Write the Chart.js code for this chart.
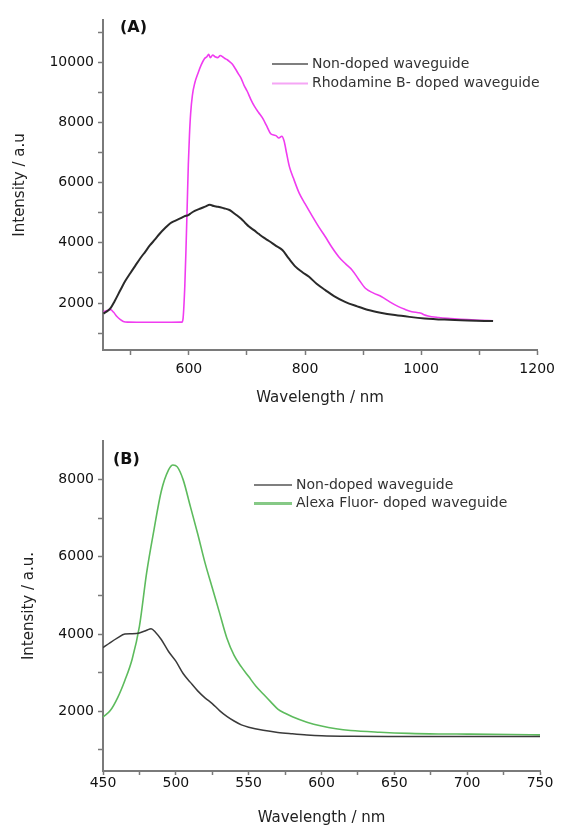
<!DOCTYPE html>
<html>
<head>
<meta charset="utf-8">
<script src="https://cdn.jsdelivr.net/npm/chart.js@4.4.1/dist/chart.umd.min.js"></script>
<style>
  body { margin: 0; background: #fff; }
  canvas { display: block; }
</style>
</head>
<body>
<canvas id="chartA" width="561" height="414"></canvas>
<canvas id="chartB" width="561" height="414"></canvas>
<script>
// Panel (A): non-doped vs Rhodamine B-doped waveguide
const wlA_plain = [453, 460, 465, 472, 482, 490, 499, 508, 516, 525, 533, 542, 550, 559, 568, 576, 585, 592, 599, 604, 610, 620, 628, 636, 643, 650, 660, 670, 680, 690, 697, 704, 712, 720, 729, 738, 750, 761, 772, 784, 795, 807, 820, 835, 850, 869, 890, 909, 930, 955, 980, 1006, 1040, 1080, 1124];
const intA_plain = [1650, 1740, 1830, 2060, 2430, 2720, 2990, 3250, 3480, 3710, 3920, 4120, 4310, 4490, 4650, 4730, 4810, 4880, 4920, 4990, 5060, 5140, 5200, 5260, 5220, 5200, 5150, 5090, 4950, 4800, 4660, 4530, 4420, 4300, 4170, 4060, 3900, 3760, 3480, 3200, 3030, 2870, 2640, 2430, 2230, 2040, 1890, 1770, 1680, 1600, 1540, 1490, 1450, 1420, 1400];

const wlA_rhod = [453, 460, 465, 470, 476, 482, 487, 495, 510, 540, 570, 588, 590, 593, 595, 597, 599, 601, 603, 606, 610, 616, 621, 627, 631, 634, 637, 641, 645, 650, 654, 658, 662, 666, 670, 675, 680, 685, 690, 695, 700, 707, 713, 720, 727, 734, 741, 746, 750, 755, 760, 764, 768, 773, 780, 790, 800, 813, 824, 835, 846, 858, 870, 881, 892, 904, 918, 932, 946, 961, 972, 984, 995, 1000, 1005, 1012, 1030, 1046, 1063, 1080, 1100, 1124];
const intA_rhod = [1710, 1760, 1780, 1700, 1550, 1450, 1390, 1365, 1360, 1360, 1360, 1365, 1500, 2600, 3800, 5200, 6600, 7600, 8300, 8900, 9300, 9650, 9900, 10120, 10180, 10260, 10150, 10240, 10180, 10150, 10220, 10180, 10120, 10080, 10020, 9930, 9780, 9620, 9460, 9230, 9050, 8750, 8530, 8330, 8140, 7880, 7620, 7580, 7560, 7480, 7540, 7380, 7000, 6540, 6150, 5650, 5300, 4870, 4520, 4200, 3860, 3540, 3300, 3100, 2800, 2490, 2330, 2210, 2040, 1880, 1790, 1710, 1680, 1660, 1610, 1570, 1520, 1490, 1470, 1450, 1430, 1410];

// Panel (B): non-doped vs Alexa Fluor-doped waveguide
const wlB_plain = [450, 455, 460, 465, 470, 475, 480, 483, 486, 490, 495, 500, 505, 510, 515, 520, 525, 530, 535, 540, 545, 550, 560, 570, 580, 590, 600, 620, 650, 700, 750];
const intB_plain = [3650, 3780, 3900, 4000, 4010, 4030, 4100, 4140, 4050, 3860, 3550, 3300, 2980, 2750, 2530, 2350, 2200, 2020, 1870, 1750, 1650, 1590, 1510, 1455, 1420, 1390, 1370, 1355, 1350, 1350, 1350];

const wlB_alexa = [450, 455, 460, 465, 470, 475, 480, 485, 490, 495, 498, 501, 505, 510, 515, 520, 525, 530, 535, 540, 545, 550, 555, 560, 565, 570, 575, 580, 590, 600, 610, 620, 640, 660, 680, 700, 730, 750];
const intB_alexa = [1850, 2020, 2350, 2800, 3350, 4200, 5600, 6700, 7700, 8250, 8380, 8330, 8000, 7300, 6600, 5850, 5200, 4550, 3900, 3450, 3150, 2900, 2650, 2450, 2250, 2060, 1950, 1860, 1720, 1620, 1550, 1505, 1460, 1430, 1415, 1410, 1400, 1390];

// tick positions (all get a tick mark) and the ones that get a label
const xTicksA = [500, 600, 700, 800, 900, 1000, 1100, 1200];
const xLabelsA = [600, 800, 1000, 1200];
const yTicksA = [1000, 2000, 3000, 4000, 5000, 6000, 7000, 8000, 9000, 10000, 11000];
const yLabelsA = [2000, 4000, 6000, 8000, 10000];

const xTicksB = [450, 475, 500, 525, 550, 575, 600, 625, 650, 675, 700, 725, 750];
const xLabelsB = [450, 500, 550, 600, 650, 700, 750];
const yTicksB = [1000, 2000, 3000, 4000, 5000, 6000, 7000, 8000];
const yLabelsB = [2000, 4000, 6000, 8000];

const FONT = '"DejaVu Sans", Verdana, sans-serif';
const AXIS = '#7a7a7a';

function pts(xs, ys) {
  return xs.map((x, i) => ({ x, y: ys[i] }));
}

// panel letter + legend drawn inside the plot
const extras = {
  id: 'extras',
  afterDraw(chart, args, o) {
    const ctx = chart.ctx;
    ctx.save();
    ctx.textBaseline = 'middle';
    ctx.fillStyle = '#111';
    ctx.font = 'bold 16px ' + FONT;
    ctx.fillText(o.panel, o.panelX, o.panelY);
    ctx.font = '14px ' + FONT;
    chart.data.datasets.forEach((ds, i) => {
      const y = o.legendY + i * o.legendGap;
      ctx.strokeStyle = ds.legendColor;
      ctx.lineWidth = ds.legendWidth;
      ctx.beginPath();
      ctx.moveTo(o.legendX, y);
      ctx.lineTo(o.legendX + o.lineLen, y);
      ctx.stroke();
      ctx.fillStyle = '#333';
      ctx.fillText(ds.label, o.legendX + o.lineLen + 4, y);
    });
    ctx.restore();
  }
};

function makeChart(id, c) {
  return new Chart(document.getElementById(id), {
    type: 'line',
    data: { datasets: c.datasets },
    plugins: [extras],
    options: {
      responsive: false,
      animation: false,
      layout: { padding: { top: c.top, right: 21, left: 0, bottom: 0 } },
      elements: {
        point: { radius: 0 },
        line: { cubicInterpolationMode: 'monotone' }
      },
      plugins: {
        legend: { display: false },
        tooltip: { enabled: false },
        extras: c.extras
      },
      scales: {
        x: {
          type: 'linear',
          min: c.xMin, max: c.xMax,
          afterFit: s => { s.height = c.xHeight; },
          afterBuildTicks: s => { s.ticks = c.xTicks.map(v => ({ value: v })); },
          border: { display: true, color: AXIS, width: 2 },
          grid: { drawOnChartArea: false, drawTicks: true, tickLength: c.xTickLen, tickColor: AXIS, tickWidth: 1.5 },
          ticks: {
            autoSkip: false, maxRotation: 0, padding: c.xPad, color: '#111',
            font: { family: FONT, size: 14 },
            callback: v => c.xLabels.includes(v) ? String(v) : ''
          },
          title: {
            display: true, text: 'Wavelength / nm', color: '#222',
            font: { family: FONT, size: 15 },
            padding: { top: 0, bottom: c.xTitlePad }
          }
        },
        y: {
          type: 'linear',
          min: c.yMin, max: c.yMax,
          afterFit: s => { s.width = 103; },
          afterBuildTicks: s => { s.ticks = c.yTicks.map(v => ({ value: v })); },
          border: { display: true, color: AXIS, width: 2 },
          grid: { drawOnChartArea: false, drawTicks: true, tickLength: 5, tickColor: AXIS, tickWidth: 1.5 },
          ticks: {
            autoSkip: false, padding: 4, color: '#111',
            font: { family: FONT, size: 14 },
            callback: v => c.yLabels.includes(v) ? String(v) : ''
          },
          title: {
            display: true, text: c.yTitle, color: '#222',
            font: { family: FONT, size: 15 },
            padding: { top: c.yTitlePad, bottom: 0 }
          }
        }
      }
    }
  });
}

makeChart('chartA', {
  top: 20, xHeight: 64, xTickLen: 5, xPad: 6, xTitlePad: 7, yTitlePad: 11,
  xMin: 452, xMax: 1200, yMin: 440, yMax: 11400,
  xTicks: xTicksA, xLabels: xLabelsA, yTicks: yTicksA, yLabels: yLabelsA,
  yTitle: 'Intensity / a.u',
  extras: { panel: '(A)', panelX: 120, panelY: 28, legendX: 272, legendY: 64, legendGap: 19.5, lineLen: 36 },
  datasets: [
    { label: 'Non-doped waveguide', data: pts(wlA_plain, intA_plain), borderColor: '#2a2a2a', borderWidth: 2, legendColor: '#555', legendWidth: 1.5 },
    { label: 'Rhodamine B- doped waveguide', data: pts(wlA_rhod, intA_rhod), borderColor: '#f03cf0', borderWidth: 1.6, legendColor: '#f5a6f5', legendWidth: 2 }
  ]
});

makeChart('chartB', {
  top: 27, xHeight: 57, xTickLen: 4, xPad: 0, xTitlePad: 1, yTitlePad: 20,
  xMin: 450, xMax: 750, yMin: 455, yMax: 9000,
  xTicks: xTicksB, xLabels: xLabelsB, yTicks: yTicksB, yLabels: yLabelsB,
  yTitle: 'Intensity / a.u.',
  extras: { panel: '(B)', panelX: 113, panelY: 46, legendX: 254, legendY: 71, legendGap: 18.5, lineLen: 38 },
  datasets: [
    { label: 'Non-doped waveguide', data: pts(wlB_plain, intB_plain), borderColor: '#3a3a3a', borderWidth: 1.5, legendColor: '#555', legendWidth: 1.5 },
    { label: 'Alexa Fluor- doped waveguide', data: pts(wlB_alexa, intB_alexa), borderColor: '#5dbb5d', borderWidth: 1.6, legendColor: '#86c986', legendWidth: 3 }
  ]
});
</script>
</body>
</html>
